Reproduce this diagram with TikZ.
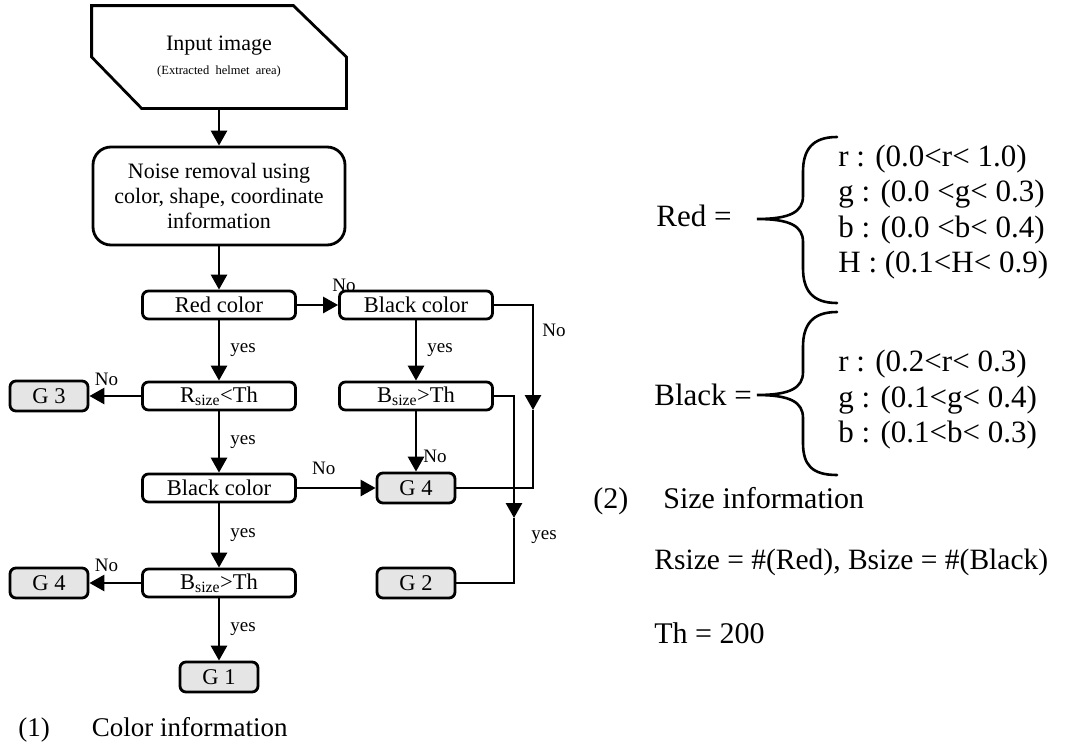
\documentclass[tikz,border=0pt]{standalone}
\usepackage{fontspec}
\setmainfont{Liberation Serif}
\usetikzlibrary{arrows.meta,positioning}

\begin{document}
\begin{tikzpicture}[x=1pt,y=-1pt,line width=2.8pt,>={Triangle[length=15pt,width=16pt]},
  box/.style={draw,rounded corners=6pt,minimum width=153pt,minimum height=28pt,inner sep=0pt,font=\fontsize{22.5}{26}\selectfont},
  gbox/.style={box,fill=black!10,minimum width=78pt,minimum height=30pt},
  lbl/.style={font=\fontsize{19}{21}\selectfont,inner sep=2pt},
  txt/.style={font=\fontsize{31}{35.5}\selectfont,align=left,inner sep=0pt,anchor=west},
  brace/.style={line width=2.6pt,line cap=round}]

  \useasboundingbox (0,0) rectangle (1066,747);

  % flow chart
  \node[minimum width=252pt,minimum height=100pt,inner sep=0pt,align=center,font=\fontsize{22}{24}\selectfont] (input) at (219,57) {Input image\\{\fontsize{12.5}{14}\selectfont (Extracted\ \ helmet\ \ area)}};
  \draw (input.north west) -- ([xshift=-53pt]input.north east) -- (input.east) -- (input.south east) -- ([xshift=50pt]input.south west) -- (input.west) -- cycle;

  \node[box,rounded corners=18pt,minimum width=252pt,minimum height=98pt,align=center,font=\fontsize{22}{25}\selectfont,node distance=139pt,below of=input] (noise) {Noise removal using\\color, shape, coordinate\\information};
  \node[box,node distance=109pt,below of=noise] (red)  {Red color};
  \node[box,node distance=91pt,below of=red]    (rs)   {R\textsubscript{size}<Th};
  \node[box,node distance=92pt,below of=rs]     (bc2)  {Black color};
  \node[box,node distance=95pt,below of=bc2]    (bs2)  {B\textsubscript{size}>Th};
  \node[gbox,node distance=94pt,below of=bs2]   (g1)   {G 1};

  \node[box,node distance=197pt,right of=red]   (bc1)  {Black color};
  \node[box,node distance=91pt,below of=bc1]    (bs1)  {B\textsubscript{size}>Th};
  \node[gbox,node distance=92pt,below of=bs1]   (g4b)  {G 4};
  \node[gbox,node distance=95pt,below of=g4b]   (g2)   {G 2};

  \node[gbox,node distance=170pt,left of=rs]    (g3)   {G 3};
  \node[gbox,node distance=170pt,left of=bs2]   (g4a)  {G 4};

  \coordinate (a1) at (533,410);
  \coordinate (a2) at (514,518);

  \draw[->] (input) -- (noise);
  \draw[->] (noise) -- (red);
  \draw[->] (red) -- node[lbl,pos=1,above=10pt,xshift=6pt] {No} (bc1);
  \draw[->] (red) -- node[lbl,right=8pt] {yes} (rs);
  \draw[->] (rs) -- node[lbl,pos=0.67,above=7pt] {No} (g3);
  \draw[->] (rs) -- node[lbl,right=8pt] {yes} (bc2);
  \draw[->] (bc2) -- node[lbl,pos=0.34,above=10pt] {No} (g4b);
  \draw[->] (bc2) -- node[lbl,right=8pt] {yes} (bs2);
  \draw[->] (bs2) -- node[lbl,pos=0.67,above=8pt] {No} (g4a);
  \draw[->] (bs2) -- node[lbl,right=8pt] {yes} (g1);
  \draw[->] (bc1) -- node[lbl,right=8pt] {yes} (bs1);
  \draw[->] (bs1) -- node[lbl,pos=0.75,right=4pt] {No} (g4b);
  \draw[->] (bc1) -| node[lbl,pos=0.62,right=6pt] {No} (a1);
  \draw (a1) |- (g4b);
  \draw[->] (bs1) -| (a2);
  \draw (a2) |- node[lbl,pos=0.15,right=14pt] {yes} (g2);

  \node[anchor=west,inner sep=0pt,font=\fontsize{27}{30}\selectfont] (colorinfo) at (17,730) {(1)\hspace{42pt}Color information};

  % color and size information
  \node[txt] (redeq) at (655,216) {Red =};
  \node[txt] (redlist) at (837,212) {r : (0.0<r< 1.0)\\g : (0.0 <g< 0.3)\\b : (0.0 <b< 0.4)\\H : (0.1<H< 0.9)};
  \draw[brace] (837,137) .. controls (812,137) and (803,150) .. (803,172) -- (803,196)
    .. controls (803,212) and (790,219) .. (757,219) .. controls (790,219) and (803,226) .. (803,242)
    -- (803,268) .. controls (803,290) and (812,303) .. (837,303);

  \node[txt] (blackeq) at (653,395) {Black =};
  \node[txt] (blacklist) at (837,400) {r : (0.2<r< 0.3)\\g : (0.1<g< 0.4)\\b : (0.1<b< 0.3)};
  \draw[brace] (837,312) .. controls (812,312) and (803,325) .. (803,347) -- (803,372)
    .. controls (803,388) and (790,395) .. (757,395) .. controls (790,395) and (803,402) .. (803,418)
    -- (803,443) .. controls (803,465) and (812,475) .. (837,475);

  \node[anchor=west,inner sep=0pt,font=\fontsize{30}{33}\selectfont] (sizeinfo) at (592,501) {(2)\hspace{35pt}Size information};
  \node[txt,font=\fontsize{29.5}{33}\selectfont] (sizedef) at (653,562) {Rsize = \#(Red), Bsize = \#(Black)};
  \node[txt,font=\fontsize{30}{33}\selectfont] (thdef) at (653,633) {Th = 200};
\end{tikzpicture}
\end{document}
